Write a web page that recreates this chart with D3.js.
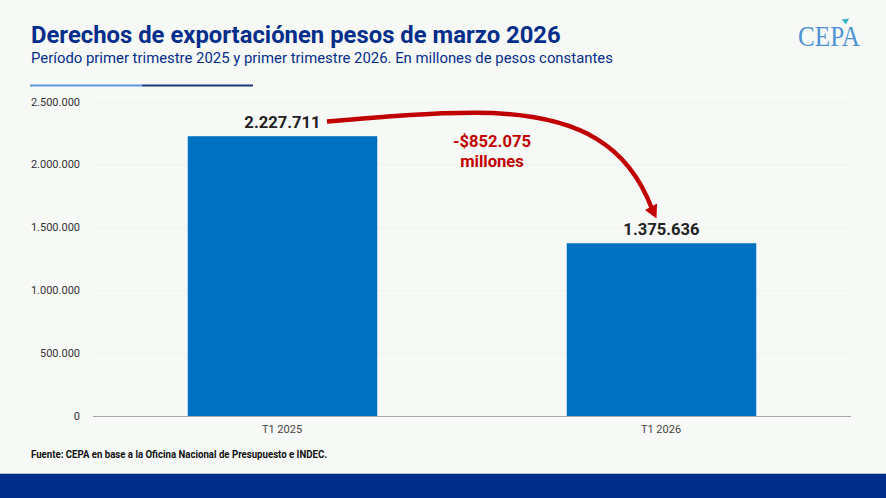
<!DOCTYPE html>
<html><head><meta charset="utf-8">
<script src="https://cdn.jsdelivr.net/npm/d3@7/dist/d3.min.js"></script>
<style>html,body{margin:0;padding:0;background:#f7f9f7}svg{display:block}text{font-family:Roboto,sans-serif}</style>
</head><body><div id="c"></div>
<script>
const categories = ["T1 2025","T1 2026"];
const values = [2227711,1375636];
const yTicks = [0,500000,1000000,1500000,2000000,2500000];
const titleText = "Derechos de exportaciónen pesos de marzo 2026";
const subtitleText = "Período primer trimestre 2025 y primer trimestre 2026. En millones de pesos constantes";
const sourceText = "Fuente: CEPA en base a la Oficina Nacional de Presupuesto e INDEC.";
const deltaLines = ["-$852.075","millones"];
const fmt = v => d3.format(",")(v).replace(/,/g,".");

const W=886,H=498;
const svg=d3.select("#c").append("svg").attr("width",W).attr("height",H);
svg.append("rect").attr("width",W).attr("height",H).attr("fill","#f7f9f7");

const x=d3.scaleBand().domain(categories).range([93,851]).padding(0.25).paddingInner(0.5);
const y=d3.scaleLinear().domain([0,2500000]).range([416,102]);

svg.append("text").attr("x",31).attr("y",43).attr("font-size",23.85).attr("font-weight",700).attr("fill","#032e8a").text(titleText);
svg.append("text").attr("x",31).attr("y",63).attr("font-size",14.88).attr("fill","#032e8a").text(subtitleText);

svg.append("rect").attr("x",30).attr("y",84.5).attr("width",112).attr("height",2).attr("fill","#5b9bd5");
svg.append("rect").attr("x",142).attr("y",84.5).attr("width",111).attr("height",2).attr("fill","#1f3a7a");

// grid
svg.append("g").selectAll("line").data(yTicks.filter(d=>d>0)).join("line")
 .attr("x1",93).attr("x2",851).attr("y1",d=>y(d)).attr("y2",d=>y(d)).attr("stroke","#f0f2f0").attr("stroke-width",1);
// y labels
svg.append("g").selectAll("text").data(yTicks).join("text")
 .attr("x",80).attr("y",d=>y(d)+3.6).attr("text-anchor","end").attr("font-size",11).attr("fill","#333").text(fmt);
// bars
svg.append("g").selectAll("rect").data(values).join("rect")
 .attr("x",(d,i)=>x(categories[i])).attr("width",x.bandwidth())
 .attr("y",d=>y(d)).attr("height",d=>y(0)-y(d)).attr("fill","#0071c1");
// baseline
svg.append("line").attr("x1",93).attr("x2",851).attr("y1",416.5).attr("y2",416.5).attr("stroke","#a6a6a6").attr("stroke-width",1);
// x labels
svg.append("g").selectAll("text").data(categories).join("text")
 .attr("x",d=>x(d)+x.bandwidth()/2-0.5).attr("y",433).attr("text-anchor","middle").attr("font-size",11).attr("fill","#444").text(d=>d);
// value labels
svg.append("g").selectAll("text").data(values).join("text")
 .attr("x",(d,i)=>x(categories[i])+x.bandwidth()/2).attr("y",d=>y(d)-7.8).attr("text-anchor","middle")
 .attr("font-size",16.6).attr("font-weight",700).attr("fill","#222").text(fmt);

// arrow
svg.append("path").attr("d","M327 121.5C385 116.5 430 112.8 475 112.8C585 112.8 630 150 652 209")
 .attr("fill","none").attr("stroke","#c00000").attr("stroke-width",4.4);
svg.append("path").attr("d","M645 210L657 203.5L656.5 218.5Z").attr("fill","#c00000");

svg.append("g").selectAll("text").data(deltaLines).join("text")
 .attr("x",492).attr("y",(d,i)=>147+i*20).attr("text-anchor","middle").attr("font-size",16.6).attr("font-weight",700).attr("fill","#c00000").text(d=>d);

svg.append("text").attr("x",31).attr("y",458).attr("font-size",10.6).attr("font-weight",700).attr("fill","#111").attr("textLength",296).attr("lengthAdjust","spacingAndGlyphs").text(sourceText);

svg.append("rect").attr("y",473).attr("width",W).attr("height",1).attr("fill","#b4bcc8");
svg.append("rect").attr("y",474).attr("width",W).attr("height",24).attr("fill","#002d8a");

// logo
svg.append("text").attr("x",798).attr("y",46).style("font-family","'Liberation Serif',serif").attr("font-size",29).attr("fill","#4f94d4").attr("textLength",62).attr("lengthAdjust","spacingAndGlyphs").text("CEPA");
svg.append("path").attr("d","M841.5 19.5L849 18.5L846 24.5Z").attr("fill","#3fb5c4");
</script></body></html>
